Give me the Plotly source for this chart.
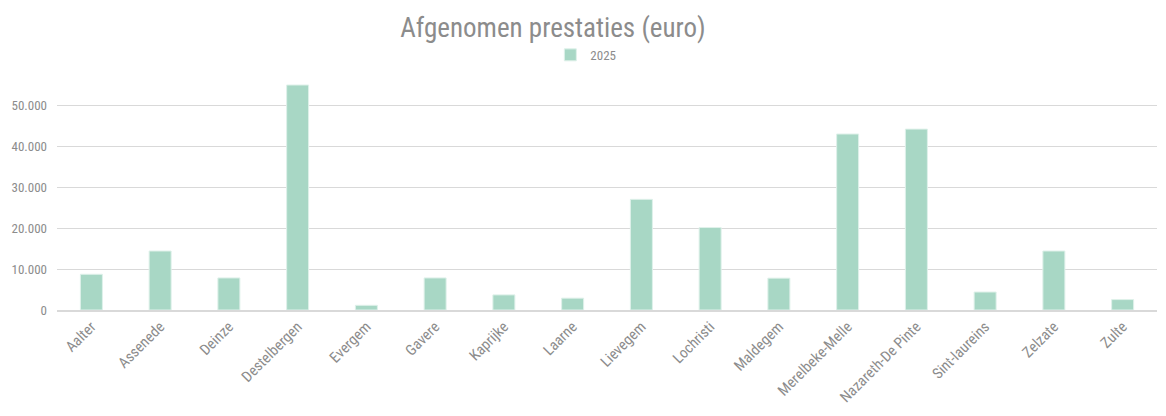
import plotly.graph_objects as go

gemeenten = [
    "Aalter", "Assenede", "Deinze", "Destelbergen", "Evergem", "Gavere",
    "Kaprijke", "Laarne", "Lievegem", "Lochristi", "Maldegem",
    "Merelbeke-Melle", "Nazareth-De Pinte", "Sint-laureins", "Zelzate", "Zulte",
]
prestaties_2025 = [
    8750, 14450, 7850, 55100, 1150, 7850,
    3700, 2900, 27100, 20200, 7800,
    43100, 44300, 4400, 14450, 2550,
]
y_ticks = [0, 10000, 20000, 30000, 40000, 50000]
y_labels = ["0", "10.000", "20.000", "30.000", "40.000", "50.000"]

FONT = "Liberation Sans Narrow, Roboto Condensed, Arial Narrow, sans-serif"
GREY = "#8c8c8c"

fig = go.Figure(
    go.Bar(
        x=gemeenten,
        y=prestaties_2025,
        name="2025",
        marker={"color": "#a8d7c5", "line": {"color": "#dff1ea", "width": 1}},
    )
)

# the page body has an 8px margin, so the figure is 8px smaller than the window
fig.update_layout(
    width=1158,
    height=408,
    paper_bgcolor="white",
    plot_bgcolor="white",
    margin={"l": 49, "r": 9, "t": 57, "b": 106, "autoexpand": False},
    bargap=0.68,
    font={"family": FONT, "color": GREY, "size": 13},
    title={
        "text": "Afgenomen prestaties (euro)",
        "x": 0.4706,
        "xref": "container",
        "xanchor": "center",
        "y": 0.953,
        "yref": "container",
        "yanchor": "middle",
        "font": {"size": 27, "color": GREY, "family": FONT},
    },
    showlegend=True,
    legend={
        "orientation": "h",
        "x": 0.499,
        "xref": "container",
        "xanchor": "center",
        "y": 0.885,
        "yref": "container",
        "yanchor": "middle",
        "font": {"size": 13, "color": GREY},
        "itemwidth": 30,
    },
)
fig.update_xaxes(
    tickangle=-45,
    showline=True,
    linecolor="#d9d9d9",
    linewidth=2,
    ticks="",
    tickfont={"size": 15, "color": GREY},
)
fig.update_yaxes(
    range=[0, 60000],
    tickvals=y_ticks,
    ticktext=y_labels,
    showgrid=True,
    gridcolor="#d9d9d9",
    gridwidth=1,
    zeroline=False,
    ticks="",
    ticklabelstandoff=9,
    tickfont={"size": 13, "color": GREY},
)

fig.write_html("out.html")
